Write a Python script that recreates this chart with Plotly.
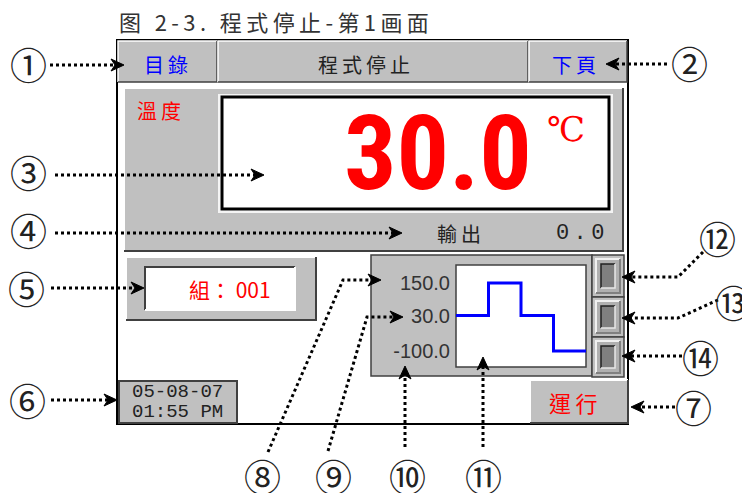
import plotly.graph_objects as go

W, H = 750, 493
OFF = 8  # the page body adds an 8px margin, so the figure starts at (8, 8)

# ---- texts / values shown on the screen
title_text = "图 2-3. 程式停止-第1画面"
menu_label = "目錄"
screen_name = "程式停止"
next_label = "下頁"
temp_label = "溫度"
temp_value = "30.0"
temp_unit = "℃"
output_label = "輸出"
output_value = "0.0"
group_label = "組： 001"
date_lines = ["05-08-07", "01:55 PM"]
run_label = "運行"

# mini trend chart
trend_ticks = [150.0, 30.0, -100.0]
trend_x = [0, 1, 2, 3, 4]
trend_y = [30, 150, 30, -100, -100]

callout_labels = ["①", "②", "③", "④", "⑤", "⑥", "⑦",
                  "⑧", "⑨", "⑩", "⑪", "⑫", "⑬", "⑭"]

GRAY = "#c0c0c0"
DARK = "#404040"
CJK = "Noto Sans CJK TC"

shapes = []
annotations = []


def rect(x0, y0, x1, y1, fill, line=None, lw=1, layer="below"):
    shapes.append(dict(type="rect", x0=x0, y0=y0, x1=x1, y1=y1, fillcolor=fill, layer=layer,
                       line=dict(color=line if line else fill, width=lw if line else 0)))


def poly(pts, color, width=1, dash=None, layer="below", close=False, fill=None):
    path = "M" + " L".join(f"{x},{y}" for x, y in pts) + (" Z" if close else "")
    d = dict(type="path", path=path, layer=layer, line=dict(color=color, width=width))
    if dash:
        d["line"]["dash"] = dash
    if fill:
        d["fillcolor"] = fill
    shapes.append(d)


def bevel(x0, y0, x1, y1, fill=GRAY, raised=True, lw=2, hi="#ffffff", lo=DARK):
    rect(x0, y0, x1, y1, fill)
    if not raised:
        hi, lo = lo, hi
    poly([(x0, y1), (x0, y0), (x1, y0)], hi, lw)
    poly([(x0, y1), (x1, y1), (x1, y0)], lo, lw)


def txt(x, y, s, size, color="#222", family=CJK, xanchor="center", bold=False):
    if bold:
        s = "<b>" + s + "</b>"
    annotations.append(dict(x=x, y=y, xref="x", yref="y", text=s, showarrow=False,
                            xanchor=xanchor, yanchor="middle",
                            font=dict(size=size, color=color, family=family)))


def spaced(s):
    return "\u2009".join(s)


# ---- frame
rect(117, 40, 628, 424, "#ffffff", "#000000", 2)

# header row
rect(118, 41, 627, 82, GRAY)
bevel(118, 41, 217, 82, lw=1.5)
bevel(218, 41, 528, 82, lw=1.5)
bevel(529, 41, 627, 82, lw=1.5)
txt(166, 64, spaced(menu_label), 20, "#0000ff")
txt(364, 64, spaced(screen_name), 20, "#222")
txt(574, 64, spaced(next_label), 20, "#0000ff")

# temperature panel
bevel(124, 88, 623, 251, lw=2)
rect(219, 95, 612, 212, "#ffffff", "#f4f4f4", 2)
rect(222, 97, 609, 209, "#ffffff", "#000000", 3)
txt(159, 110, spaced(temp_label), 20, "#ff0000")
txt(438, 153, temp_value, 104, "#ff0000",
    family="Roboto Condensed, Liberation Sans Narrow, DejaVu Sans Condensed", bold=True)
txt(566, 129, temp_unit, 34, "#ff0000", family="DejaVu Serif")
txt(459, 233, spaced(output_label), 20, "#222")
txt(580, 233, spaced(output_value), 22, "#222", family="Liberation Mono")

# group box
bevel(126, 257, 316, 320, lw=2)
bevel(145, 267, 295, 310, fill="#ffffff", raised=False, lw=2)
txt(230, 289, group_label, 21, "#ff0000")

# date box
rect(119, 381, 237, 423, GRAY, DARK, 2)
txt(177, 392, date_lines[0], 19, "#222", family="Liberation Mono")
txt(177, 412, date_lines[1], 19, "#222", family="Liberation Mono")

# trend panel
rect(371, 255, 592, 376, GRAY, DARK, 1.5)
rect(456, 265, 586, 367, "#ffffff", DARK, 1.5)

# three small buttons
for y0, y1 in [(255, 297), (297, 337), (337, 377)]:
    rect(592, y0, 624, y1, GRAY, DARK, 1.5)
    bevel(596, y0 + 4, 620, y1 - 4, fill="#b0b0b0", lw=2, hi="#f0f0f0", lo="#808080")
    bevel(601, y0 + 9, 615, y1 - 9, fill="#808080", raised=False, lw=1.5, hi="#e8e8e8", lo="#202020")

# run button
bevel(530, 380, 628, 423, lw=2)
txt(573, 402, spaced(run_label), 22, "#ff0000")

# ---- title
txt(117, 21, spaced(title_text), 22, "#333", family="Noto Sans CJK SC", xanchor="left")

# ---- callouts: circle centre, dotted path ending at the arrow tip
callouts = [
    ((28, 64), [(50, 65), (124, 65)]),
    ((689, 63), [(667, 64), (606, 64)]),
    ((28, 172), [(55, 175), (264, 175)]),
    ((28, 230), [(55, 233), (402, 233)]),
    ((26, 288), [(51, 288), (144, 288)]),
    ((27, 400), [(51, 400), (117, 400)]),
    ((693, 407), [(675, 407), (631, 407)]),
    ((262, 476), [(268, 452), (343, 280), (381, 280)]),
    ((333, 476), [(328, 451), (367, 317), (403, 317)]),
    ((407, 476), [(405, 447), (405, 366)]),
    ((483, 476), [(483, 447), (483, 357)]),
    ((717, 238), [(703, 252), (678, 277), (622, 277)]),
    ((733, 302), [(718, 300), (678, 318), (622, 318)]),
    ((700, 357), [(682, 356), (622, 356)]),
]

for label, (centre, pts) in zip(callout_labels, callouts):
    tx, ty = pts[-1]
    px, py = pts[-2]
    ln = ((tx - px) ** 2 + (ty - py) ** 2) ** 0.5
    dx, dy = (tx - px) / ln, (ty - py) / ln
    L, hw, notch = 13, 6, 4
    bx, by = tx - dx * L, ty - dy * L
    nx, ny = tx - dx * (L - notch), ty - dy * (L - notch)
    line_pts = pts[:-1] + [(nx, ny)]
    poly(line_pts, "#000000", 3, dash="dot", layer="above")
    poly([(tx, ty), (bx - dy * hw, by + dx * hw), (nx, ny), (bx + dy * hw, by - dx * hw)],
         "#000000", 1, layer="above", close=True, fill="#000000")
    txt(centre[0], centre[1], label, 37, "#222", family="Noto Sans CJK JP")

fig = go.Figure()
fig.add_trace(go.Scatter(x=trend_x, y=trend_y, mode="lines", line_shape="hv",
                         line=dict(color="#0000ff", width=3), xaxis="x2", yaxis="y2",
                         hoverinfo="skip", showlegend=False))

FW, FH = W - OFF, H - OFF
fig.update_layout(
    width=FW, height=FH, margin=dict(l=0, r=0, t=0, b=0),
    paper_bgcolor="#ffffff", plot_bgcolor="rgba(0,0,0,0)",
    xaxis=dict(range=[OFF, W], visible=False, domain=[0, 1], fixedrange=True),
    yaxis=dict(range=[H, OFF], visible=False, domain=[0, 1], fixedrange=True),
    xaxis2=dict(range=[0, 4], visible=False, anchor="y2",
                domain=[(456 - OFF) / FW, (586 - OFF) / FW]),
    yaxis2=dict(range=[-159, 216], anchor="x2",
                domain=[1 - (367 - OFF) / FH, 1 - (265 - OFF) / FH],
                tickvals=trend_ticks, ticktext=[f"{v:.1f}" for v in trend_ticks],
                showgrid=False, zeroline=False, showline=False, ticks="",
                ticklabelstandoff=5,
                tickfont=dict(family="Liberation Sans", size=20, color="#333")),
    shapes=shapes, annotations=annotations, showlegend=False,
)

fig.write_html("out.html")
